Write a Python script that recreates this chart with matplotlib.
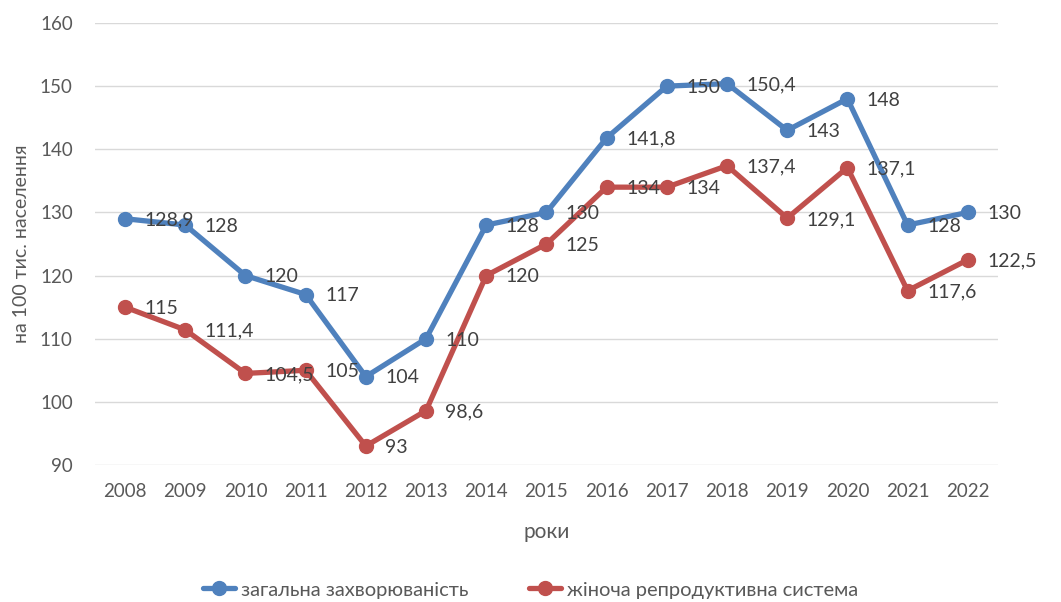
import matplotlib
matplotlib.use("Agg")
import matplotlib.pyplot as plt

plt.rcParams['font.family'] = ['Lato', 'DejaVu Sans']

years = [2008, 2009, 2010, 2011, 2012, 2013, 2014, 2015, 2016, 2017, 2018, 2019, 2020, 2021, 2022]
general = [129, 128, 120, 117, 104, 110, 128, 130, 141.8, 150, 150.4, 143, 148, 128, 130]
general_labels = ['128,9', '128', '120', '117', '104', '110', '128', '130', '141,8', '150',
                  '150,4', '143', '148', '128', '130']
female = [115, 111.4, 104.5, 105, 93, 98.6, 120, 125, 134, 134, 137.4, 129.1, 137.1, 117.6, 122.5]
female_labels = ['115', '111,4', '104,5', '105', '93', '98,6', '120', '125', '134', '134',
                 '137,4', '129,1', '137,1', '117,6', '122,5']

blue = '#4f81bd'
red = '#c0504d'

fig = plt.figure(figsize=(10.61, 6.02), dpi=100)
ax = fig.add_axes([0.0895, 0.2276, 0.851, 0.7342])

ax.plot(years, general, color=blue, lw=3.8, marker='o', ms=10, label='загальна захворюваність',
        solid_capstyle='round', zorder=3)
ax.plot(years, female, color=red, lw=3.8, marker='o', ms=10, label='жіноча репродуктивна система',
        solid_capstyle='round', zorder=3)

for x, y, t in zip(years, general, general_labels):
    ax.annotate(t, (x, y), xytext=(14, -1), textcoords='offset points', ha='left', va='center',
                fontsize=14, color='#404040', zorder=4)
for x, y, t in zip(years, female, female_labels):
    ax.annotate(t, (x, y), xytext=(14, -1), textcoords='offset points', ha='left', va='center',
                fontsize=14, color='#404040', zorder=4)

ax.set_xlim(2007.5, 2022.5)
ax.set_ylim(90, 160)
ax.set_yticks(range(90, 161, 10))
ax.set_xticks(years)
ax.grid(axis='y', color='#d9d9d9', lw=1)
ax.set_axisbelow(True)
for s in ax.spines.values():
    s.set_visible(False)
ax.tick_params(length=0, labelsize=13.5, colors='#595959')
ax.tick_params(axis='x', pad=13)
ax.tick_params(axis='y', pad=16)

ax.set_xlabel('роки', fontsize=15, color='#595959', labelpad=16)
ax.set_ylabel('на 100 тис. населення', fontsize=14, color='#595959', labelpad=7)

fig.legend(loc='center', bbox_to_anchor=(0.5, 0.02), ncol=2, frameon=False, fontsize=14.5,
           handlelength=1.6, handletextpad=0.3, columnspacing=3, labelcolor='#595959')

fig.savefig('out.png', dpi=100)
